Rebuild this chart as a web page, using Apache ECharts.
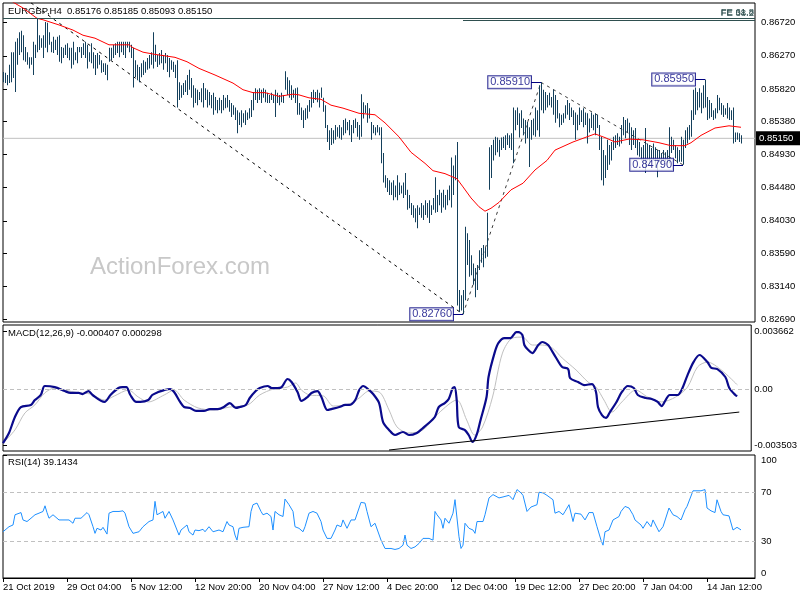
<!DOCTYPE html>
<html><head><meta charset="utf-8">
<script src="https://cdn.jsdelivr.net/npm/echarts@6/dist/echarts.min.js"></script>
<style>html,body{margin:0;padding:0;background:#fff}#c{width:800px;height:600px}</style>
</head><body><div id="c"></div>
<script>
// ---------- data ----------
const symbolName = 'EURGBP,H4';
const lastOHLC = [0.85176, 0.85185, 0.85093, 0.85150];
const lastClose = 0.85150;
const macdLast = ['-0.000407', '0.000298'];
const rsiLast = '39.1434';

const highs = [
0.8605,0.8604,0.8601,0.8615,0.8632,0.8632,0.8646,0.8651,0.8659,0.8661,
0.8655,0.8639,0.8632,0.8625,0.8625,0.8646,0.8642,0.8678,0.8655,0.8651,
0.8655,0.8673,0.8672,0.8659,0.8646,0.8653,0.8649,0.8653,0.8655,0.8639,
0.8638,0.8642,0.8644,0.8638,0.8638,0.8646,0.8632,0.8639,0.8639,0.8639,
0.8644,0.8646,0.8642,0.8632,0.8644,0.8632,0.8628,0.8631,0.8628,0.8621,
0.8617,0.8617,0.8615,0.8638,0.8638,0.8642,0.8644,0.8646,0.8646,0.8646,
0.8646,0.8646,0.8646,0.8646,0.8642,0.8638,0.8621,0.8615,0.8612,0.8617,
0.8621,0.8619,0.8624,0.8628,0.8632,0.8659,0.8642,0.8628,0.8631,0.8635,
0.8628,0.8631,0.8628,0.8624,0.8621,0.8619,0.8615,0.8621,0.8591,0.8587,
0.8590,0.8594,0.8601,0.8608,0.8597,0.8587,0.8583,0.8581,0.8578,0.8583,
0.8590,0.8583,0.8581,0.8578,0.8574,0.8577,0.8571,0.8567,0.8570,0.8567,
0.8574,0.8570,0.8574,0.8567,0.8563,0.8560,0.8557,0.8553,0.8550,0.8553,
0.8549,0.8553,0.8550,0.8556,0.8567,0.8578,0.8583,0.8581,0.8583,0.8581,
0.8583,0.8581,0.8577,0.8574,0.8577,0.8574,0.8581,0.8577,0.8574,0.8577,
0.8574,0.8606,0.8598,0.8594,0.8587,0.8581,0.8583,0.8584,0.8563,0.8557,
0.8553,0.8556,0.8560,0.8567,0.8578,0.8581,0.8578,0.8581,0.8577,0.8584,
0.8570,0.8560,0.8533,0.8526,0.8529,0.8526,0.8533,0.8530,0.8533,0.8530,
0.8540,0.8542,0.8537,0.8540,0.8533,0.8540,0.8542,0.8537,0.8533,0.8575,
0.8564,0.8560,0.8563,0.8556,0.8537,0.8533,0.8530,0.8533,0.8530,0.8530,
0.8495,0.8465,0.8461,0.8458,0.8455,0.8458,0.8451,0.8465,0.8455,0.8451,
0.8455,0.8468,0.8445,0.8438,0.8427,0.8424,0.8420,0.8424,0.8421,0.8427,
0.8424,0.8431,0.8427,0.8431,0.8424,0.8434,0.8462,0.8438,0.8445,0.8441,
0.8445,0.8438,0.8445,0.8451,0.8489,0.8478,0.8492,0.8510,0.8309,0.8302,
0.8309,0.8395,0.8386,0.8377,0.8356,0.8345,0.8339,0.8343,0.8363,0.8366,
0.8370,0.8366,0.8414,0.8503,0.8506,0.8513,0.8517,0.8516,0.8513,0.8516,
0.8517,0.8519,0.8522,0.8519,0.8522,0.8557,0.8553,0.8557,0.8549,0.8553,
0.8542,0.8540,0.8537,0.8530,0.8540,0.8542,0.8557,0.8553,0.8587,0.8591,
0.8581,0.8578,0.8574,0.8577,0.8571,0.8581,0.8574,0.8567,0.8549,0.8547,
0.8549,0.8560,0.8567,0.8563,0.8557,0.8553,0.8550,0.8547,0.8557,0.8553,
0.8556,0.8550,0.8549,0.8542,0.8550,0.8547,0.8549,0.8547,0.8533,0.8517,
0.8499,0.8492,0.8513,0.8506,0.8510,0.8517,0.8519,0.8522,0.8517,0.8533,
0.8544,0.8540,0.8542,0.8536,0.8530,0.8526,0.8529,0.8513,0.8510,0.8503,
0.8506,0.8529,0.8508,0.8506,0.8502,0.8508,0.8503,0.8499,0.8499,0.8495,
0.8499,0.8496,0.8499,0.8530,0.8517,0.8513,0.8506,0.8503,0.8499,0.8517,
0.8513,0.8526,0.8530,0.8533,0.8553,0.8581,0.8584,0.8578,0.8583,0.8577,
0.8587,0.8595,0.8571,0.8567,0.8563,0.8553,0.8556,0.8574,0.8570,0.8563,
0.8560,0.8556,0.8563,0.8557,0.8553,0.8557,0.8523,0.8523,0.8522,0.8519];

const lows = [
0.8591,0.8590,0.8587,0.8590,0.8591,0.8597,0.8578,0.8615,0.8628,0.8632,
0.8621,0.8619,0.8615,0.8610,0.8615,0.8601,0.8624,0.8632,0.8635,0.8638,
0.8624,0.8638,0.8632,0.8642,0.8632,0.8631,0.8635,0.8628,0.8619,0.8617,
0.8624,0.8628,0.8624,0.8621,0.8610,0.8615,0.8621,0.8617,0.8632,0.8624,
0.8628,0.8624,0.8610,0.8619,0.8617,0.8610,0.8601,0.8610,0.8615,0.8604,
0.8605,0.8601,0.8594,0.8619,0.8621,0.8624,0.8628,0.8631,0.8625,0.8632,
0.8628,0.8624,0.8638,0.8632,0.8624,0.8584,0.8598,0.8594,0.8591,0.8598,
0.8601,0.8604,0.8608,0.8610,0.8615,0.8610,0.8619,0.8612,0.8615,0.8617,
0.8608,0.8617,0.8605,0.8598,0.8608,0.8605,0.8597,0.8557,0.8567,0.8570,
0.8574,0.8578,0.8574,0.8581,0.8570,0.8557,0.8563,0.8560,0.8567,0.8564,
0.8557,0.8567,0.8557,0.8560,0.8556,0.8547,0.8553,0.8549,0.8553,0.8549,
0.8553,0.8556,0.8557,0.8551,0.8544,0.8547,0.8540,0.8522,0.8533,0.8530,
0.8536,0.8533,0.8540,0.8542,0.8544,0.8553,0.8567,0.8563,0.8567,0.8563,
0.8570,0.8564,0.8563,0.8563,0.8567,0.8563,0.8544,0.8563,0.8560,0.8564,
0.8563,0.8581,0.8574,0.8570,0.8567,0.8570,0.8563,0.8547,0.8547,0.8540,
0.8529,0.8540,0.8542,0.8551,0.8557,0.8563,0.8567,0.8564,0.8557,0.8570,
0.8551,0.8529,0.8510,0.8499,0.8506,0.8508,0.8513,0.8517,0.8515,0.8513,
0.8519,0.8522,0.8526,0.8519,0.8510,0.8522,0.8529,0.8517,0.8513,0.8517,
0.8542,0.8549,0.8536,0.8542,0.8513,0.8522,0.8519,0.8523,0.8519,0.8481,
0.8455,0.8448,0.8442,0.8438,0.8438,0.8431,0.8435,0.8431,0.8438,0.8440,
0.8434,0.8438,0.8418,0.8420,0.8411,0.8407,0.8401,0.8393,0.8411,0.8407,
0.8404,0.8411,0.8407,0.8400,0.8411,0.8418,0.8414,0.8415,0.8424,0.8414,
0.8421,0.8418,0.8424,0.8431,0.8421,0.8438,0.8458,0.8288,0.8279,0.8281,
0.8276,0.8295,0.8343,0.8327,0.8329,0.8316,0.8299,0.8309,0.8336,0.8346,
0.8340,0.8352,0.8354,0.8445,0.8461,0.8485,0.8492,0.8496,0.8490,0.8499,
0.8502,0.8499,0.8506,0.8502,0.8499,0.8481,0.8526,0.8533,0.8516,0.8529,
0.8519,0.8508,0.8515,0.8476,0.8513,0.8519,0.8517,0.8526,0.8517,0.8553,
0.8549,0.8553,0.8557,0.8560,0.8557,0.8547,0.8536,0.8542,0.8530,0.8533,
0.8536,0.8542,0.8547,0.8540,0.8544,0.8533,0.8513,0.8526,0.8533,0.8537,
0.8530,0.8533,0.8508,0.8523,0.8529,0.8526,0.8519,0.8529,0.8499,0.8458,
0.8451,0.8461,0.8472,0.8479,0.8485,0.8499,0.8502,0.8506,0.8504,0.8508,
0.8519,0.8515,0.8523,0.8506,0.8499,0.8506,0.8502,0.8492,0.8490,0.8485,
0.8481,0.8468,0.8485,0.8479,0.8483,0.8485,0.8476,0.8462,0.8483,0.8479,
0.8485,0.8483,0.8481,0.8481,0.8495,0.8499,0.8488,0.8481,0.8483,0.8483,
0.8479,0.8502,0.8508,0.8513,0.8517,0.8540,0.8547,0.8553,0.8557,0.8549,
0.8556,0.8557,0.8540,0.8542,0.8544,0.8540,0.8542,0.8549,0.8553,0.8547,
0.8544,0.8547,0.8542,0.8540,0.8540,0.8508,0.8510,0.8513,0.8510,0.8508];

// moving average (bar index, value)
const maPoints = [[0,0.8712],[5,0.8700],[10,0.8692],[17,0.8678],[20,0.8676],[28,0.8669],[35,0.8662],[40,0.8655],[46,0.8651],[53,0.8642],[63,0.8642],[65,0.8638],[70,0.8632],[76,0.8629],[86,0.8625],[92,0.8619],[98,0.8610],[106,0.8601],[115,0.8590],[120,0.8581],[125,0.8577],[131,0.8577],[138,0.8572],[145,0.8575],[148,0.8574],[153,0.8570],[159,0.8568],[164,0.8560],[170,0.8556],[178,0.8549],[186,0.8547],[191,0.8536],[198,0.8517],[204,0.8496],[211,0.8481],[215,0.8471],[221,0.8467],[227,0.8460],[230,0.8449],[234,0.8434],[238,0.8422],[241,0.8416],[244,0.8420],[248,0.8428],[254,0.8445],[260,0.8454],[266,0.8472],[272,0.8485],[276,0.8499],[285,0.8510],[292,0.8517],[296,0.8521],[301,0.8516],[306,0.8510],[313,0.8514],[320,0.8513],[328,0.8509],[334,0.8505],[341,0.8505],[344,0.8509],[349,0.8519],[356,0.8529],[363,0.8532],[369,0.8530]];

const macdMain = [[0,-0.00338],[3,-0.00274],[6,-0.00173],[9,-0.00110],[14,-0.00097],[16,-0.00066],[19,-0.00034],[21,0.00023],[26,0.00016],[31,-0.00009],[34,-0.00021],[38,-0.00021],[40,-0.00028],[43,-0.00009],[45,-0.00034],[51,-0.00078],[54,-0.00034],[58,0.00010],[60,0.00016],[62,0.00016],[64,-0.00034],[67,-0.00078],[69,-0.00078],[73,-0.00066],[75,-0.00034],[78,-0.00015],[81,-0.00003],[84,0.00004],[86,-0.00015],[89,-0.00078],[91,-0.00110],[94,-0.00116],[97,-0.00135],[101,-0.00135],[104,-0.00123],[108,-0.00123],[111,-0.00110],[114,-0.00085],[117,-0.00116],[119,-0.00110],[122,-0.00097],[124,-0.00053],[127,-0.00009],[129,0.00010],[133,0.00023],[135,0.00010],[138,0.00010],[140,0.00016],[143,0.00067],[145,0.00048],[148,-0.00015],[150,-0.00072],[153,-0.00047],[155,-0.00021],[158,-0.00009],[160,-0.00047],[163,-0.00129],[165,-0.00123],[169,-0.00110],[172,-0.00097],[174,-0.00097],[177,-0.00066],[179,-0.00003],[181,0.00023],[184,-0.00003],[186,-0.00028],[189,-0.00085],[191,-0.00205],[194,-0.00255],[197,-0.00287],[201,-0.00268],[204,-0.00287],[208,-0.00274],[211,-0.00243],[214,-0.00211],[217,-0.00173],[219,-0.00110],[222,-0.00085],[224,-0.00059],[226,0.00010],[227,0.00016],[228,-0.00066],[229,-0.00236],[232,-0.00255],[234,-0.00287],[236,-0.00331],[238,-0.00287],[240,-0.00192],[243,-0.00047],[244,0.00080],[247,0.00231],[249,0.00295],[252,0.00326],[255,0.00326],[258,0.00364],[259,0.00364],[261,0.00345],[262,0.00282],[264,0.00250],[266,0.00231],[269,0.00282],[271,0.00301],[274,0.00282],[275,0.00263],[278,0.00200],[281,0.00143],[284,0.00130],[285,0.00073],[289,0.00048],[292,0.00029],[296,0.00035],[298,-0.00015],[299,-0.00110],[301,-0.00161],[303,-0.00179],[305,-0.00142],[308,-0.00085],[311,-0.00015],[314,0.00023],[317,0.00010],[319,-0.00034],[323,-0.00053],[326,-0.00059],[329,-0.00078],[331,-0.00104],[333,-0.00066],[335,-0.00034],[339,-0.00034],[341,-0.00003],[344,0.00092],[347,0.00174],[350,0.00219],[354,0.00174],[356,0.00137],[359,0.00130],[363,0.00080],[365,0.00010],[368,-0.00034],[369,-0.00041]];

const macdSignal = [[0,-0.00338],[6,-0.00255],[11,-0.00148],[16,-0.00097],[21,-0.00021],[26,0.00010],[31,-0.00003],[38,-0.00021],[44,-0.00028],[51,-0.00066],[56,-0.00040],[63,-0.00003],[68,-0.00047],[73,-0.00078],[81,-0.00034],[86,-0.00003],[91,-0.00066],[98,-0.00116],[106,-0.00129],[114,-0.00110],[123,-0.00097],[129,-0.00034],[136,0.00004],[143,0.00016],[147,0.00042],[150,-0.00003],[154,-0.00034],[161,-0.00040],[166,-0.00104],[174,-0.00091],[179,-0.00053],[184,-0.00009],[189,-0.00015],[194,-0.00129],[198,-0.00236],[204,-0.00274],[211,-0.00255],[219,-0.00148],[228,-0.00066],[233,-0.00192],[237,-0.00287],[241,-0.00236],[246,-0.00047],[251,0.00231],[256,0.00326],[261,0.00332],[266,0.00282],[271,0.00282],[276,0.00263],[281,0.00200],[288,0.00124],[294,0.00048],[298,0.00016],[302,-0.00066],[306,-0.00142],[311,-0.00078],[318,-0.00003],[324,-0.00047],[331,-0.00078],[338,-0.00047],[344,0.00016],[349,0.00143],[354,0.00174],[361,0.00124],[369,0.00030]];

const macdTrend = [[194,-0.00382],[370,-0.00142]];

const rsiPoints = [[0,37.6],[1,36.3],[3,41.7],[5,43.1],[6,51.4],[7,51.4],[9,53.2],[10,47.2],[12,45.9],[14,48.6],[15,50],[16,51.4],[18,52.7],[20,54.1],[21,58.7],[22,53.2],[23,48.6],[25,51.4],[26,52.7],[28,47.2],[30,47.2],[31,45.9],[33,47.2],[35,44.5],[36,48.6],[39,48.6],[40,47.2],[42,53.2],[43,51.4],[45,41.7],[46,36.3],[47,40.4],[49,39],[50,41.2],[52,35.7],[53,52.7],[55,54.1],[56,55.5],[58,54.1],[60,54.6],[61,52.7],[63,41.7],[65,36.3],[66,34.9],[68,37.6],[70,41.7],[71,43.1],[73,45.9],[75,47.2],[76,62.3],[77,51.4],[78,52.7],[80,54.1],[81,48.6],[83,54.1],[85,47.2],[86,47.2],[88,34.9],[89,39],[90,37.6],[92,43.1],[93,37.6],[95,34.9],[96,39],[98,38.5],[100,39.6],[101,37.6],[103,41.7],[105,37.6],[106,37.6],[108,39],[110,37.6],[112,45.9],[113,43.1],[115,41.7],[116,34.9],[117,30.8],[118,40.4],[120,41.2],[123,41.7],[124,54.1],[125,59.6],[127,60.9],[129,54.1],[130,51.4],[132,52.7],[134,50],[135,39],[136,54.1],[138,51.4],[140,50],[141,64.2],[143,59.6],[145,54.1],[146,41.7],[148,40.4],[150,37.6],[151,41.7],[153,52.7],[155,54.1],[157,52.7],[159,45.9],[160,39],[162,32.2],[164,32.2],[166,39],[167,43.1],[169,41.7],[170,47.2],[172,40.4],[174,47.2],[176,47.2],[177,48.6],[179,61.5],[181,60.9],[182,54.1],[184,41.7],[186,44.5],[187,43.1],[189,30.8],[191,24],[194,24],[196,23.2],[198,24],[200,26.7],[201,34.9],[202,26.7],[204,24],[206,25.3],[207,24],[208,28.1],[210,32.2],[211,33.5],[213,32.2],[215,30.8],[216,54.1],[217,51.4],[219,47.2],[220,40.4],[221,48.6],[223,44.5],[225,52.7],[226,63.7],[228,33.5],[229,24],[230,26.7],[231,44.5],[233,40.4],[235,39],[236,36.3],[237,45.9],[240,45.9],[241,51.4],[243,65.1],[245,67.8],[246,67.8],[248,65.1],[250,65.9],[251,65.1],[253,67.2],[255,63.7],[257,71.9],[259,69.2],[260,67.2],[262,54.1],[264,57.7],[265,56.9],[267,59.6],[268,69.7],[270,69.2],[272,67.2],[275,63.6],[276,52.7],[278,54.1],[280,51.4],[281,54.1],[283,59.6],[285,45.9],[286,52.7],[289,51.9],[290,51.4],[291,47.2],[293,53.2],[295,53.2],[297,41.7],[299,30.8],[300,26.7],[301,37.6],[303,39],[305,47.2],[306,48],[308,50],[309,54.1],[311,58.2],[313,56.9],[315,51.4],[316,47.2],[319,43.1],[320,40.4],[322,45.9],[324,41.7],[325,47.2],[328,37.6],[330,41.7],[331,40.4],[333,56.9],[335,51.4],[337,50],[339,47.2],[341,55.5],[342,58.2],[345,70.9],[346,70.1],[349,70.9],[351,71.9],[352,56.9],[354,54.6],[356,53.2],[357,63.6],[359,54.1],[360,51.4],[363,50.5],[365,39],[366,37.6],[367,41.2],[368,39.6],[369,39.1]];

// drawn objects (bar index, price)
const fiboLineA = [[14,0.8699],[230,0.8276]];
const fiboLineB = [[230,0.8276],[269,0.8591]];
const fiboLineC = [[269,0.8591],[340,0.8479]];
const feLevelPrices = [0.8678, 0.8676];
const feLevelStart = [0, 230];
const feLevelNames = ['FE 61.8', 'FE 38.2'];
const pivotBars = [230, 269, 340, 351];
const pivotPrices = [0.8276, 0.8591, 0.8479, 0.8595];

// axis ticks
const priceTicks = [0.8269, 0.8314, 0.8359, 0.8403, 0.8448, 0.8493, 0.8538, 0.8582, 0.8627, 0.8672];
const macdTicks = [-0.003503, 0, 0.003662];
const macdTickLabels = ['-0.003503', '0.00', '0.003662'];
const rsiTicks = [0, 30, 70, 100];
const rsiLevels = [30, 70];
const xTickBars = [0, 32, 64, 96, 128, 160, 192, 224, 256, 288, 320, 352];
const xTickLabels = ['21 Oct 2019', '29 Oct 04:00', '5 Nov 12:00', '12 Nov 20:00', '20 Nov 04:00', '27 Nov 12:00', '4 Dec 20:00', '12 Dec 04:00', '19 Dec 12:00', '27 Dec 20:00', '7 Jan 04:00', '14 Jan 12:00'];

// ---------- chart ----------
const FONT = 'Liberation Sans';
const FS = 9.5;
const BAR_COLOR = '#14405c';
const XMIN = 0, XMAX = 376;

const chart = echarts.init(document.getElementById('c'), null, {renderer: 'canvas'});

const grids = [
  {left: 3, top: 3, width: 752, height: 319},
  {left: 3, top: 325, width: 752, height: 126},
  {left: 3, top: 455, width: 752, height: 123}
].map(g => Object.assign({show: true, borderColor: '#000', borderWidth: 1, backgroundColor: '#fff'}, g));

const baseLabel = {color: '#000', fontSize: FS, fontFamily: FONT};

const xAxes = [0, 1, 2].map(k => ({
  type: 'value', gridIndex: k, min: XMIN, max: XMAX,
  show: k === 2,
  splitLine: {show: false},
  axisLine: {show: true, lineStyle: {color: '#000'}},
  axisTick: {show: true, customValues: xTickBars, length: 4, lineStyle: {color: '#000'}},
  axisLabel: Object.assign({}, baseLabel, {
    customValues: xTickBars, align: 'left', margin: 4,
    formatter: v => xTickLabels[xTickBars.indexOf(v)]
  })
}));

const yAxes = [
  {gridIndex: 0, type: 'value', position: 'right', min: 0.82655, max: 0.86988,
   splitLine: {show: false}, axisLine: {show: false},
   axisTick: {show: true, customValues: priceTicks, length: 4, lineStyle: {color: '#000'}},
   axisLabel: Object.assign({}, baseLabel, {customValues: priceTicks, margin: 6, formatter: v => v.toFixed(5)})},
  {gridIndex: 1, type: 'value', position: 'right', min: -0.003882, max: 0.004086,
   splitLine: {show: false}, axisLine: {show: false},
   axisTick: {show: true, customValues: macdTicks, length: 4, lineStyle: {color: '#000'}},
   axisLabel: Object.assign({}, baseLabel, {customValues: macdTicks, margin: 3,
     formatter: v => macdTickLabels[macdTicks.indexOf(v)]})},
  {gridIndex: 2, type: 'value', position: 'right', min: 0, max: 100,
   splitLine: {show: false}, axisLine: {show: false},
   axisTick: {show: true, customValues: rsiTicks, length: 4, lineStyle: {color: '#000'}},
   axisLabel: Object.assign({}, baseLabel, {customValues: rsiTicks, margin: 6,
     verticalAlignMinLabel: 'bottom', verticalAlignMaxLabel: 'top'})}
];

const barData = highs.map((h, i) => [i, h, lows[i]]);

const dashed = (data, color) => ({
  type: 'line', xAxisIndex: 0, yAxisIndex: 0, data, symbol: 'none', silent: true, z: 2,
  lineStyle: {color, width: 1, type: [3, 4]}
});

const series = [
  // current price line
  {type: 'line', xAxisIndex: 0, yAxisIndex: 0, data: [[XMIN, lastClose], [XMAX, lastClose]],
   symbol: 'none', silent: true, z: 1, lineStyle: {color: '#c0c0c0', width: 1},
   endLabel: {show: true, formatter: lastClose.toFixed(5), backgroundColor: '#000', color: '#fff',
     fontSize: FS, fontFamily: FONT, padding: [2, 8, 2, 3], distance: 1}},
  // bars
  {type: 'custom', xAxisIndex: 0, yAxisIndex: 0, data: barData, z: 3, silent: true,
   encode: {x: 0, y: [1, 2]},
   renderItem: function (params, api) {
     const top = api.coord([api.value(0), api.value(1)]);
     const bot = api.coord([api.value(0), api.value(2)]);
     return {type: 'rect', shape: {x: Math.round(top[0]), y: top[1], width: 1, height: Math.max(1, bot[1] - top[1])},
       style: {fill: BAR_COLOR}};
   }},
  // moving average + FE levels
  {type: 'line', xAxisIndex: 0, yAxisIndex: 0, data: maPoints, symbol: 'none', silent: true, z: 4,
   lineStyle: {color: '#ff0000', width: 1},
   markLine: {silent: true, symbol: ['none', 'none'], animation: false,
     lineStyle: {color: '#2f4f4f', width: 1, type: 'solid'},
     data: feLevelPrices.map((p, k) => [
       {coord: [feLevelStart[k], p], label: {show: true, position: 'insideEndTop', formatter: feLevelNames[k],
         color: '#2f4f4f', fontSize: FS, fontFamily: FONT, distance: 1}},
       {coord: [XMAX, p]}
     ])}},
  dashed(fiboLineA, '#000'),
  dashed(fiboLineB, '#3a3a3a'),
  dashed(fiboLineC, '#3a3a3a'),
  // pivot labels
  {type: 'scatter', xAxisIndex: 0, yAxisIndex: 0, symbolSize: 0, z: 6, silent: true,
   data: pivotBars.map((b, k) => [b, pivotPrices[k]]),
   label: {show: true, position: 'left', distance: 10, formatter: p => p.value[1].toFixed(5),
     color: '#000080', fontSize: 11, fontFamily: FONT, backgroundColor: '#fff',
     borderColor: '#000080', borderWidth: 1, padding: [1, 1, 0, 2]},
   markLine: {silent: true, symbol: ['none', 'none'], animation: false, label: {show: false},
     lineStyle: {color: '#000080', width: 1, type: 'solid'},
     data: pivotBars.map((b, k) => [{coord: [b - 5, pivotPrices[k]]}, {coord: [b, pivotPrices[k]]}])}},
  // MACD
  {type: 'line', xAxisIndex: 1, yAxisIndex: 1, data: macdSignal, symbol: 'none', silent: true, z: 2,
   smooth: 0.3, lineStyle: {color: '#c0c0c0', width: 1},
   markLine: {silent: true, symbol: ['none', 'none'], animation: false, label: {show: false},
     lineStyle: {color: '#c0c0c0', width: 1, type: [4, 3]}, data: [{yAxis: 0}]}},
  {type: 'line', xAxisIndex: 1, yAxisIndex: 1, data: macdMain, symbol: 'none', silent: true, z: 3,
   smooth: 0.3, lineStyle: {color: '#0a0a8c', width: 2.2}},
  {type: 'line', xAxisIndex: 1, yAxisIndex: 1, data: macdTrend, symbol: 'none', silent: true, z: 4,
   lineStyle: {color: '#000', width: 1}},
  // RSI
  {type: 'line', xAxisIndex: 2, yAxisIndex: 2, data: rsiPoints, symbol: 'none', silent: true, z: 3,
   lineStyle: {color: '#1e90ff', width: 1},
   markLine: {silent: true, symbol: ['none', 'none'], animation: false, label: {show: false},
     lineStyle: {color: '#c0c0c0', width: 1, type: [4, 3]}, data: rsiLevels.map(v => ({yAxis: v}))}}
];

const txt = (text, left, top, extra) => ({type: 'text', left, top, silent: true,
  style: Object.assign({text, fill: '#000', fontSize: FS, fontFamily: FONT}, extra || {})});

chart.setOption({
  animation: false,
  grid: grids,
  xAxis: xAxes,
  yAxis: yAxes,
  series,
  graphic: [
    txt('ActionForex.com', 90, 255, {fill: '#c8c8c8', fontSize: 24}),
    txt(symbolName + '  ' + lastOHLC.map(v => v.toFixed(5)).join(' '), 8, 6),
    txt('MACD(12,26,9) ' + macdLast.join(' '), 8, 328),
    txt('RSI(14) ' + rsiLast, 8, 457)
  ]
});
</script>
</body></html>
